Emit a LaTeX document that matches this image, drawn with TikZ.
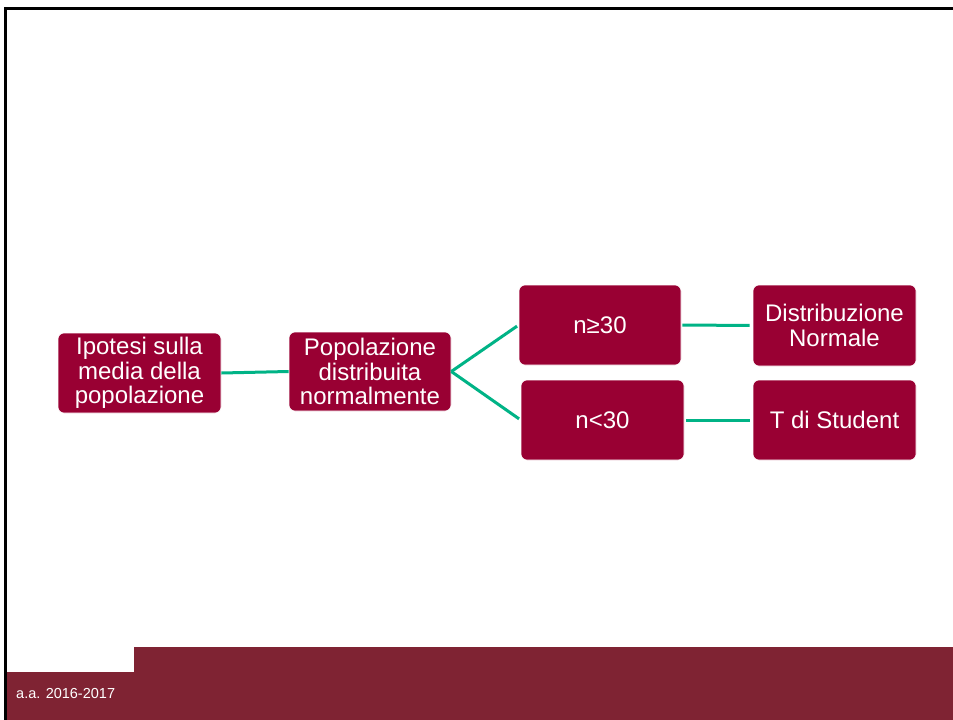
\documentclass[tikz,border=0pt]{standalone}
\usepackage{fontspec}
\setmainfont{Liberation Sans}
\definecolor{boxred}{HTML}{990033}
\definecolor{footred}{HTML}{7F2333}
\definecolor{linkgreen}{HTML}{00B386}
\begin{document}
\begin{tikzpicture}[x=1pt,y=-1pt,
  box/.style={fill=boxred, draw=white, line width=0.6pt, rounded corners=6pt,
    text=white, align=center, font=\fontsize{24}{24.5}\selectfont, inner sep=0pt,
    minimum width=163pt, minimum height=80pt},
  link/.style={draw=linkgreen, line width=3pt}]
\useasboundingbox (0,0) rectangle (953,720);
\fill[white] (0,0) rectangle (953,720);
\fill[footred] (134,647) rectangle (953,720);
\fill[footred] (6,672) rectangle (134,720);
\draw[line width=2.5pt] (5.5,720) -- (5.5,8.5) -- (953,8.5);
\node[anchor=west, text=white, font=\fontsize{14.5}{16}\selectfont, inner sep=0pt] (foot) at (16,693) {a.a. 2016-2017};

\node[box] (n1) at (139.5,373) {Ipotesi sulla\\media della\\popolazione};
\node[box, minimum width=162pt, minimum height=79pt] (n2) at (370,371.5) {Popolazione\\distribuita\\normalmente};
\node[box, minimum width=162pt] (n3) at (600,325) {n≥30};
\node[box, minimum height=81pt] (n4) at (834.5,325.5) {Distribuzione\\Normale};
\node[box] (n5) at (602.5,420) {n<30};
\node[box] (n6) at (834.5,420) {T di Student};

\draw[link] (n1.east) -- (n2.west);
\draw[link, shorten >=2pt] (n2.east) -- (n3.west);
\draw[link, shorten >=2pt] (n2.east) -- (n5.west);
\draw[link, shorten <=1pt, shorten >=3pt] (n3.east) -- (n4.west);
\draw[link, shorten <=2pt, shorten >=3pt] (n5.east) -- (n6.west);
\end{tikzpicture}
\end{document}
